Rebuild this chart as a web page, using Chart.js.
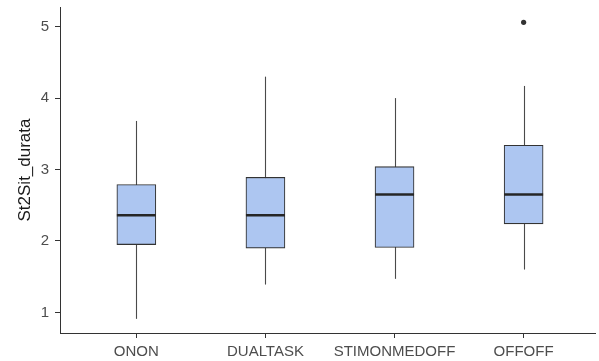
<!DOCTYPE html>
<html>
<head>
<meta charset="utf-8">
<script src="https://cdn.jsdelivr.net/npm/chart.js@4"></script>
<style>
  html, body { margin: 0; padding: 0; background: #fff; }
  canvas { display: block; }
</style>
</head>
<body>
<canvas id="boxChart" width="599" height="361"></canvas>
<script>
// data
const categories = ["ONON", "DUALTASK", "STIMONMEDOFF", "OFFOFF"];
const lowerWhisker = [0.91, 1.39, 1.47, 1.60];
const q1 = [1.95, 1.90, 1.91, 2.24];
const median = [2.36, 2.36, 2.65, 2.65];
const q3 = [2.79, 2.89, 3.04, 3.34];
const upperWhisker = [3.68, 4.30, 4.00, 4.17];
const outlierCategory = [4];
const outlierValue = [5.06];
const yTicks = [1, 2, 3, 4, 5];

const FONT = "'Liberation Sans', Arial, Helvetica, sans-serif";

const boxes = categories.map((c, i) => ({ x: i + 1, y: [q1[i], q3[i]] }));
const outliers = outlierCategory.map((c, i) => ({ x: c, y: outlierValue[i] }));

// whiskers behind boxes, medians on top
const boxPlotLines = {
  id: "boxPlotLines",
  beforeDatasetsDraw(chart) {
    const { ctx, scales: { x, y } } = chart;
    ctx.save();
    ctx.strokeStyle = "#4a4a4a";
    ctx.lineWidth = 1.1;
    categories.forEach((c, i) => {
      const px = Math.round(x.getPixelForValue(i + 1)) + 0.5;
      ctx.beginPath();
      ctx.moveTo(px, y.getPixelForValue(lowerWhisker[i]));
      ctx.lineTo(px, y.getPixelForValue(upperWhisker[i]));
      ctx.stroke();
    });
    ctx.restore();
  },
  afterDatasetsDraw(chart) {
    const { ctx, scales: { x, y } } = chart;
    const half = chart.data.datasets[0].barThickness / 2;
    ctx.save();
    ctx.strokeStyle = "#262626";
    ctx.lineWidth = 2.4;
    categories.forEach((c, i) => {
      const px = x.getPixelForValue(i + 1);
      const py = y.getPixelForValue(median[i]);
      ctx.beginPath();
      ctx.moveTo(px - half, py);
      ctx.lineTo(px + half, py);
      ctx.stroke();
    });
    ctx.restore();
  },
};

new Chart(document.getElementById("boxChart"), {
  type: "bar",
  data: {
    datasets: [
      {
        type: "bar",
        data: boxes,
        barThickness: 39,
        backgroundColor: "#adc6f1",
        borderColor: "#333333",
        borderWidth: 1.1,
        borderSkipped: false,
      },
      {
        type: "scatter",
        data: outliers,
        pointRadius: 2.6,
        pointBackgroundColor: "#333333",
        pointBorderWidth: 0,
      },
    ],
  },
  options: {
    responsive: false,
    devicePixelRatio: 1,
    animation: false,
    layout: { padding: { top: 7, right: 0, left: 0, bottom: 0 } },
    plugins: {
      legend: { display: false },
      tooltip: { enabled: false },
    },
    scales: {
      x: {
        type: "linear",
        offset: false,
        min: 0.4085,
        max: 4.553,
        afterBuildTicks: (scale) => {
          scale.ticks = categories.map((c, i) => ({ value: i + 1 }));
        },
        afterFit: (scale) => {
          scale.height = 28;
          scale.paddingLeft = 0;
          scale.paddingRight = 0;
        },
        ticks: {
          callback: (value) => categories[value - 1],
          color: "#4d4d4d",
          font: { family: FONT, size: 15 },
          padding: 5,
          maxRotation: 0,
          autoSkip: false,
        },
        grid: {
          offset: false,
          drawOnChartArea: false,
          drawTicks: true,
          tickLength: 5,
          color: "#333333",
        },
        border: { display: true, color: "#333333", width: 1 },
      },
      y: {
        type: "linear",
        min: 0.712,
        max: 5.275,
        afterBuildTicks: (scale) => {
          scale.ticks = yTicks.map((v) => ({ value: v }));
        },
        afterFit: (scale) => {
          scale.width = 60;
          scale.paddingTop = 0;
          scale.paddingBottom = 0;
        },
        ticks: {
          color: "#4d4d4d",
          font: { family: FONT, size: 15 },
          padding: 6,
        },
        grid: {
          drawOnChartArea: false,
          drawTicks: true,
          tickLength: 5,
          color: "#333333",
        },
        border: { display: true, color: "#333333", width: 1 },
        title: {
          display: true,
          text: "St2Sit_durata",
          color: "#1a1a1a",
          font: { family: FONT, size: 17 },
          padding: { top: 15, bottom: 0 },
        },
      },
    },
  },
  plugins: [boxPlotLines],
});
</script>
</body>
</html>
